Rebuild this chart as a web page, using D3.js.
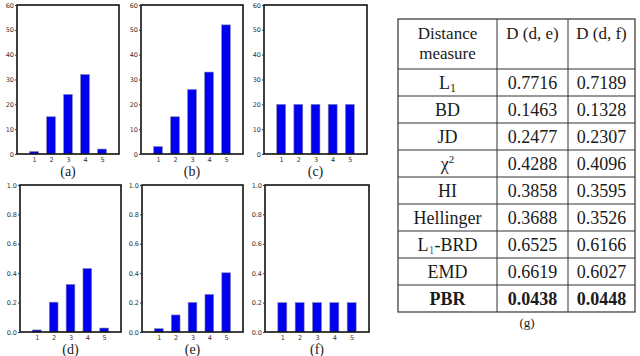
<!DOCTYPE html>
<html>
<head>
<meta charset="utf-8">
<script src="https://cdn.jsdelivr.net/npm/d3@7"></script>
<style>
  body { margin: 0; background: #fff; }
  svg { display: block; }
  .serif { font-family: "Liberation Serif", "Times New Roman", "DejaVu Serif", serif; }
</style>
</head>
<body>
<svg id="chart" width="640" height="356"></svg>
<script>
const W = 640, H = 356;

// histogram data
const bins = [1, 2, 3, 4, 5];
const histA = [1, 15, 24, 32, 2];
const histB = [3, 15, 26, 33, 52];
const histC = [20, 20, 20, 20, 20];
const histD = [0.014, 0.203, 0.324, 0.432, 0.027];
const histE = [0.023, 0.116, 0.202, 0.256, 0.403];
const histF = [0.2, 0.2, 0.2, 0.2, 0.2];
const countTicks = [0, 10, 20, 30, 40, 50, 60];
const probTicks = [0, 0.2, 0.4, 0.6, 0.8, 1.0];

// table data
const headers = ["Distance measure", "D (d, e)", "D (d, f)"];
const measures = ["L1", "BD", "JD", "χ2", "HI", "Hellinger", "L1-BRD", "EMD", "PBR"];
const distDE = ["0.7716", "0.1463", "0.2477", "0.4288", "0.3858", "0.3688", "0.6525", "0.6619", "0.0438"];
const distDF = ["0.7189", "0.1328", "0.2307", "0.4096", "0.3595", "0.3526", "0.6166", "0.6027", "0.0448"];

const svg = d3.select("#chart");

const panels = [
  {data: histA, label: "(a)", x0: 17, x1: 119, y0: 5, y1: 154, max: 60, ticks: countTicks, fmt: d3.format("d")},
  {data: histB, label: "(b)", x0: 141, x1: 243, y0: 5, y1: 154, max: 60, ticks: countTicks, fmt: d3.format("d")},
  {data: histC, label: "(c)", x0: 264, x1: 367, y0: 5, y1: 154, max: 60, ticks: countTicks, fmt: d3.format("d")},
  {data: histD, label: "(d)", x0: 20, x1: 121, y0: 185, y1: 332, max: 1, ticks: probTicks, fmt: d3.format(".1f")},
  {data: histE, label: "(e)", x0: 142, x1: 243, y0: 185, y1: 332, max: 1, ticks: probTicks, fmt: d3.format(".1f")},
  {data: histF, label: "(f)", x0: 265, x1: 369, y0: 185, y1: 332, max: 1, ticks: probTicks, fmt: d3.format(".1f")}
];

panels.forEach(p => {
  const g = svg.append("g");
  const x = d3.scaleLinear().domain([0, 6]).range([p.x0, p.x1]);
  const y = d3.scaleLinear().domain([0, p.max]).range([p.y1, p.y0]);
  const bw = (x(1) - x(0)) * 0.52;

  g.selectAll("rect.bar")
    .data(p.data)
    .join("rect")
    .attr("class", "bar")
    .attr("x", (d, i) => x(bins[i]) - bw / 2)
    .attr("y", d => y(d))
    .attr("width", bw)
    .attr("height", d => y(0) - y(d))
    .attr("fill", "#0000f0")
    .attr("stroke", "#8a8aa8")
    .attr("stroke-width", 0.6);

  // frame
  g.append("rect")
    .attr("x", p.x0).attr("y", p.y0)
    .attr("width", p.x1 - p.x0).attr("height", p.y1 - p.y0)
    .attr("fill", "none")
    .attr("stroke", "#111")
    .attr("stroke-width", 1.6);

  const yAxis = d3.axisLeft(y).tickValues(p.ticks).tickFormat(p.fmt).tickSize(2).tickPadding(1);
  const ya = g.append("g").attr("transform", `translate(${p.x0},0)`).call(yAxis);
  ya.select(".domain").remove();

  const xAxis = d3.axisBottom(x).tickValues(bins).tickFormat(d3.format("d")).tickSize(0).tickPadding(3);
  const xa = g.append("g").attr("transform", `translate(0,${p.y1})`).call(xAxis);
  xa.select(".domain").remove();

  svg.selectAll("g.tick text")
    .attr("font-family", "DejaVu Sans")
    .attr("font-size", 6.5)
    .attr("fill", "#333");
  svg.selectAll("g.tick line").attr("stroke", "#333");

  g.append("text")
    .attr("class", "serif")
    .attr("x", (p.x0 + p.x1) / 2)
    .attr("y", p.y1 + 22)
    .attr("text-anchor", "middle")
    .attr("font-size", 14)
    .attr("fill", "#222")
    .text(p.label);
});

// table
const colX = [398, 497, 568, 635];
const rowY = d3.scaleLinear().domain([0, measures.length]).range([69, 312]);
const tg = svg.append("g").attr("class", "serif").attr("fill", "#1a1a1a");

tg.append("rect")
  .attr("x", colX[0]).attr("y", 19)
  .attr("width", colX[3] - colX[0]).attr("height", 312 - 19)
  .attr("fill", "none").attr("stroke", "#333").attr("stroke-width", 1.2);

[colX[1], colX[2]].forEach(cx => {
  tg.append("line").attr("x1", cx).attr("x2", cx).attr("y1", 19).attr("y2", 312)
    .attr("stroke", "#333").attr("stroke-width", 1);
});
d3.range(0, measures.length).forEach(i => {
  tg.append("line").attr("x1", colX[0]).attr("x2", colX[3])
    .attr("y1", rowY(i)).attr("y2", rowY(i))
    .attr("stroke", "#333").attr("stroke-width", 1);
});

// header
const hcx = [(colX[0] + colX[1]) / 2, (colX[1] + colX[2]) / 2, (colX[2] + colX[3]) / 2];
const [hw1, hw2] = headers[0].split(" ");
tg.append("text").attr("x", hcx[0]).attr("y", 39).attr("text-anchor", "middle")
  .attr("font-size", 17).text(hw1);
tg.append("text").attr("x", hcx[0]).attr("y", 59).attr("text-anchor", "middle")
  .attr("font-size", 17).text(hw2);
tg.append("text").attr("x", hcx[1]).attr("y", 39).attr("text-anchor", "middle")
  .attr("font-size", 17).text(headers[1]);
tg.append("text").attr("x", hcx[2]).attr("y", 39).attr("text-anchor", "middle")
  .attr("font-size", 17).text(headers[2]);

measures.forEach((m, i) => {
  const yy = (rowY(i) + rowY(i + 1)) / 2 + 6;
  const bold = m === "PBR";
  const t = tg.append("text").attr("x", hcx[0]).attr("y", yy).attr("text-anchor", "middle")
    .attr("font-size", 18).attr("font-weight", bold ? "bold" : "normal");
  if (m === "L1") {
    t.append("tspan").text("L");
    t.append("tspan").attr("font-size", 12).attr("dy", 3).text("1");
  } else if (m === "L1-BRD") {
    t.append("tspan").text("L");
    t.append("tspan").attr("font-size", 12).attr("dy", 3).attr("fill", "#3a78c0").text("1");
    t.append("tspan").attr("dy", -3).text("-BRD");
  } else if (m === "χ2") {
    t.append("tspan").text("χ");
    t.append("tspan").attr("font-size", 11).attr("dy", -7).text("2");
  } else {
    t.text(m);
  }
  tg.append("text").attr("x", hcx[1]).attr("y", yy).attr("text-anchor", "middle")
    .attr("font-size", 18).attr("font-weight", bold ? "bold" : "normal").text(distDE[i]);
  tg.append("text").attr("x", hcx[2]).attr("y", yy).attr("text-anchor", "middle")
    .attr("font-size", 18).attr("font-weight", bold ? "bold" : "normal").text(distDF[i]);
});

tg.append("text").attr("x", 527).attr("y", 327).attr("text-anchor", "middle")
  .attr("font-size", 13).text("(g)");
</script>
</body>
</html>
